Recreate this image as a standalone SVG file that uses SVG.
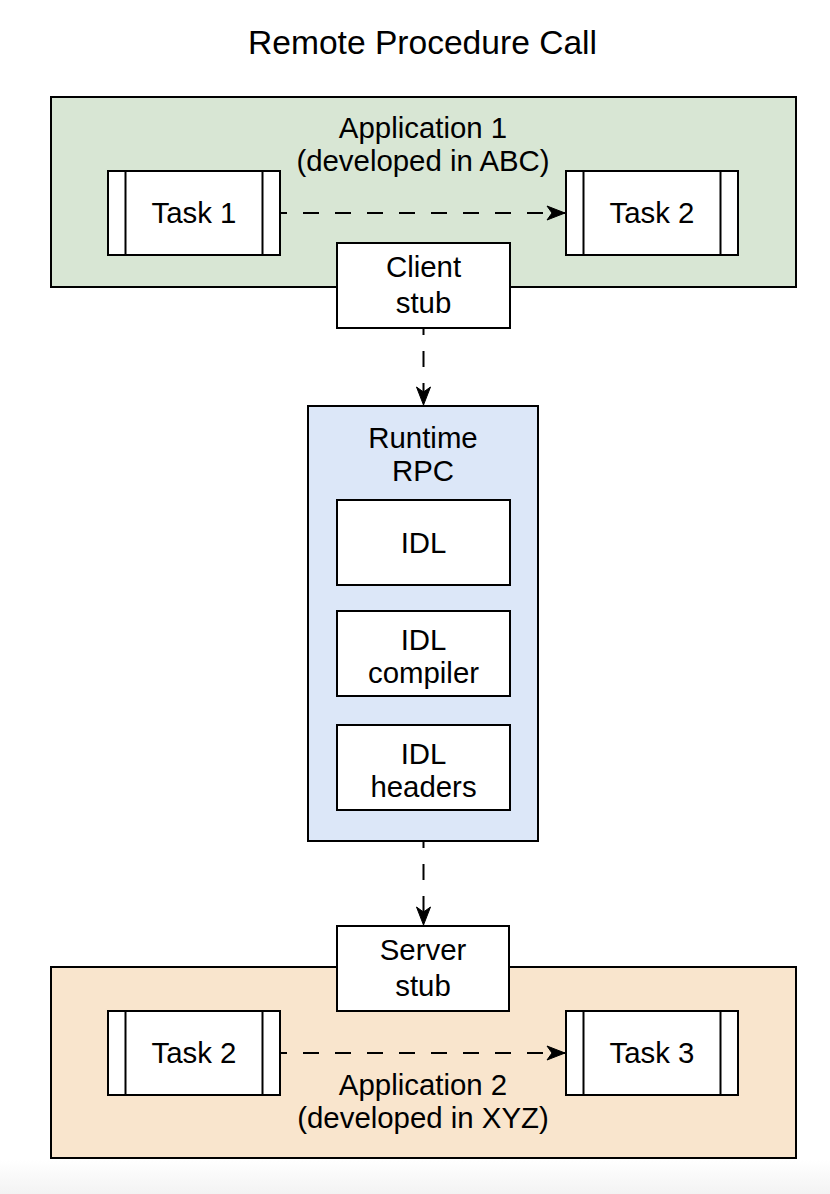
<svg xmlns="http://www.w3.org/2000/svg" width="830" height="1194" viewBox="0 0 830 1194">
  <defs>
    <style>
      text { font-family: "Liberation Sans", Arial, Helvetica, sans-serif; font-size: 29.4px; fill: #000; text-anchor: middle; }
      .title { font-size: 33.6px; }
      .box { stroke: #000; stroke-width: 2; }
      .white { fill: #fff; }
      .inner { stroke: #000; stroke-width: 2; fill: none; }
      .conn { stroke: #000; stroke-width: 2; fill: none; stroke-dasharray: 16 16; stroke-dashoffset: 9; }
    </style>
    <marker id="arrow" viewBox="0 0 20 16" refX="19" refY="8" markerWidth="20" markerHeight="16" markerUnits="userSpaceOnUse" orient="auto">
      <path d="M19,8 L1,1 L6,8 L1,15 Z" fill="#000" stroke="#000" stroke-width="1"/>
    </marker>
    <linearGradient id="bg" x1="0" y1="0" x2="0" y2="1">
      <stop offset="0" stop-color="#ffffff"/>
      <stop offset="1" stop-color="#f3f3f3"/>
    </linearGradient>
  </defs>

  <rect x="0" y="0" width="830" height="1194" fill="#ffffff"/>
  <rect x="0" y="1160" width="830" height="34" fill="url(#bg)"/>

  <text class="title" x="422.5" y="54">Remote Procedure Call</text>

  <g id="app1">
    <rect class="box" x="51" y="97" width="745" height="190" fill="#d8e6d4"/>
    <text x="423" y="138">Application 1</text>
    <text x="423" y="171">(developed in ABC)</text>
  </g>

  <g id="app2">
    <rect class="box" x="51" y="967" width="745" height="191" fill="#f9e5cd"/>
    <text x="423" y="1095">Application 2</text>
    <text x="423" y="1128">(developed in XYZ)</text>
  </g>

  <g id="task1">
    <rect class="box white" x="108" y="171" width="172" height="84"/>
    <path class="inner" d="M125.5,171 V255 M262.5,171 V255"/>
    <text x="194" y="223">Task 1</text>
  </g>

  <g id="task2-top">
    <rect class="box white" x="566" y="171" width="172" height="84"/>
    <path class="inner" d="M583.5,171 V255 M720.5,171 V255"/>
    <text x="652" y="223">Task 2</text>
  </g>

  <g id="task2-bottom">
    <rect class="box white" x="108" y="1011" width="172" height="84"/>
    <path class="inner" d="M125.5,1011 V1095 M262.5,1011 V1095"/>
    <text x="194" y="1063">Task 2</text>
  </g>

  <g id="task3">
    <rect class="box white" x="566" y="1011" width="172" height="84"/>
    <path class="inner" d="M583.5,1011 V1095 M720.5,1011 V1095"/>
    <text x="652" y="1063">Task 3</text>
  </g>

  <g id="client-stub">
    <rect class="box white" x="337" y="243" width="173" height="85"/>
    <text x="423.5" y="277">Client</text>
    <text x="423.5" y="313">stub</text>
  </g>

  <g id="runtime-rpc">
    <rect class="box" x="308" y="406" width="230" height="435" fill="#dce7f8"/>
    <text x="423" y="448">Runtime</text>
    <text x="423" y="481">RPC</text>
  </g>

  <g id="idl">
    <rect class="box white" x="337" y="500" width="173" height="85"/>
    <text x="423.5" y="552.5">IDL</text>
  </g>

  <g id="idl-compiler">
    <rect class="box white" x="337" y="611" width="173" height="85"/>
    <text x="423.5" y="650">IDL</text>
    <text x="423.5" y="683">compiler</text>
  </g>

  <g id="idl-headers">
    <rect class="box white" x="337" y="725" width="173" height="85"/>
    <text x="423.5" y="764">IDL</text>
    <text x="423.5" y="797">headers</text>
  </g>

  <g id="server-stub">
    <rect class="box white" x="337" y="926" width="172" height="85"/>
    <text x="423" y="960">Server</text>
    <text x="423" y="996">stub</text>
  </g>

  <g id="connectors">
    <path class="conn" d="M280,213 H565" marker-end="url(#arrow)"/>
    <path class="conn" d="M280,1053 H565" marker-end="url(#arrow)"/>
    <path class="conn" d="M423.5,328 V405" marker-end="url(#arrow)"/>
    <path class="conn" d="M423.5,841 V925" marker-end="url(#arrow)"/>
  </g>
</svg>
